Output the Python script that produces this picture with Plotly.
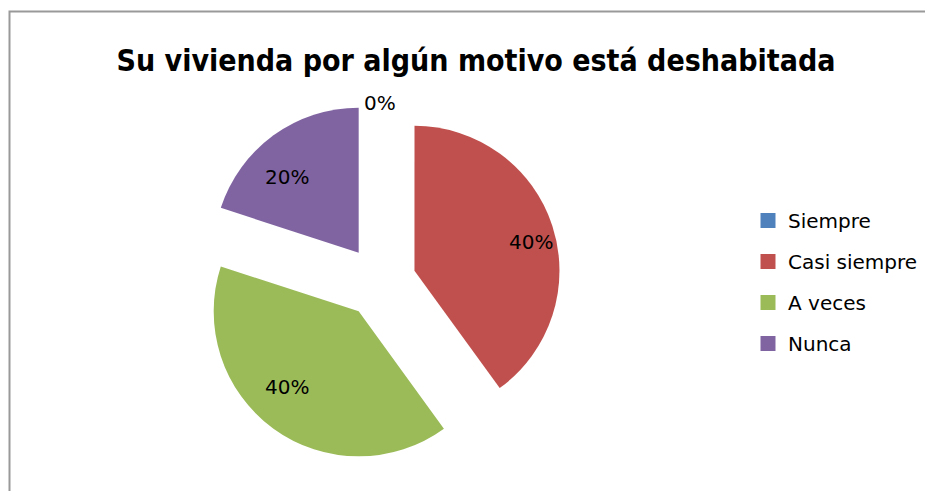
import math
import plotly.graph_objects as go

labels = ["Siempre", "Casi siempre", "A veces", "Nunca"]
values = [0, 40, 40, 20]
colors = ["#4F81BD", "#C0504D", "#9BBB59", "#8064A2"]
title_text = "Su vivienda por algún motivo está deshabitada"

W, H = 933, 491
OFF = 8  # browser body margin
cx, cy = 380 - OFF, 282 - OFF
r = 145
pull = 0.25
half = r * (1 + pull)
# label placement radii (horizontal / vertical)
lrx, lry = 159, 130

fig = go.Figure()
fig.add_trace(go.Pie(
    labels=labels,
    values=values,
    marker=dict(colors=colors, line=dict(width=0)),
    sort=False,
    direction="clockwise",
    rotation=0,
    pull=[pull] * len(values),
    textinfo="none",
    hoverinfo="label+percent",
    domain=dict(x=[(cx - half) / W, (cx + half) / W],
                y=[1 - (cy + half) / H, 1 - (cy - half) / H]),
    showlegend=False,
))

# percentage labels placed along each slice bisector (derived from data)
total = sum(values)
cum = 0.0
for lab, v in zip(labels, values):
    start = cum / total * 2 * math.pi
    cum += v
    end = cum / total * 2 * math.pi
    mid = (start + end) / 2
    if v == 0:
        dx = 0
        dy = r * (1 + pull) - 2
    else:
        f = pull + 0.75
        dx = lrx * f * math.sin(mid)
        dy = lry * f * math.cos(mid)
    px = cx + dx
    py = cy - dy
    fig.add_annotation(
        x=px / W, y=1 - py / H, xref="paper", yref="paper",
        xanchor="center", yanchor="middle",
        text=f"{v / total:.0%}", showarrow=False,
        font=dict(family="DejaVu Sans", size=20, color="black"),
    )

# legend entries
for lab, col in zip(labels, colors):
    fig.add_trace(go.Scatter(
        x=[None], y=[None], mode="markers", name=lab,
        marker=dict(symbol="square", size=15, color=col),
        legendgroup=lab, showlegend=True, hoverinfo="skip",
    ))

fig.add_shape(type="rect", xref="paper", yref="paper",
              x0=1.5 / W, x1=1.05, y0=-0.05, y1=1 - 3.5 / H,
              line=dict(color="#999999", width=2), fillcolor="rgba(0,0,0,0)")

fig.update_layout(
    width=W, height=H,
    margin=dict(l=0, r=0, t=0, b=0),
    paper_bgcolor="white",
    plot_bgcolor="white",
    xaxis=dict(visible=False),
    yaxis=dict(visible=False),
    title=dict(text="<b>" + title_text + "</b>", x=(476 - OFF) / W, xanchor="center",
               y=1 - 52 / H, yanchor="middle",
               font=dict(family="DejaVu Sans Condensed", size=30, color="black")),
    legend=dict(x=(748 - OFF) / W, xanchor="left", y=1 - (282 - OFF) / H, yanchor="middle",
                font=dict(family="DejaVu Sans", size=20, color="black"),
                tracegroupgap=12, bgcolor="rgba(0,0,0,0)"),
)

fig.write_html("out.html")
